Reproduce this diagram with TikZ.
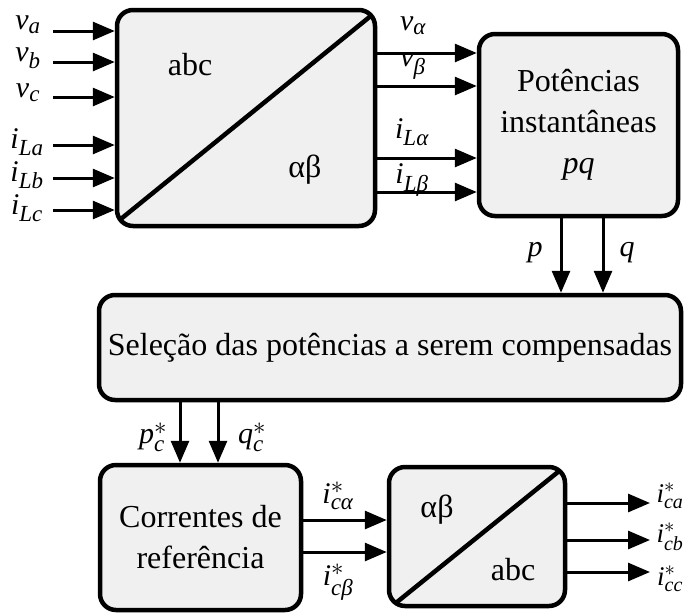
\documentclass[tikz,border=0pt]{standalone}
\usepackage{amsmath}
\usepackage{fontspec}
\setmainfont{Liberation Serif}
\usetikzlibrary{arrows.meta}
\DeclareMathSizes{30}{30}{23}{17}
\DeclareMathSizes{27}{27}{20}{15}
\begin{document}
\begin{tikzpicture}[x=1pt,y=-1pt,
  every node/.style={font=\fontsize{32}{41}\selectfont, inner sep=0pt},
  lbl/.style={font=\fontsize{30}{34}\selectfont},
  olbl/.style={font=\fontsize{27}{30}\selectfont},
  blk/.style={draw, line width=4.5pt, fill=black!6, rounded corners=16pt, align=center},
  arr/.style={line width=3pt, -{Triangle[length=22pt,width=18pt]}},
  diag/.style={line width=4.5pt}]
\useasboundingbox (0,0) rectangle (685,614);

% blocks
\node[blk, minimum width=258pt, minimum height=216pt] (b1) at (246,118) {};
\node[blk, minimum width=199pt, minimum height=182pt] (b2) at (578.5,125) {Potências\\instantâneas\\\textit{pq}};
\node[blk, minimum width=582pt, minimum height=105pt] (b3) at (390,347.5) {Seleção das potências a serem compensadas};
\node[blk, minimum width=201pt, minimum height=145pt] (b4) at (200.5,537.5) {Correntes de\\referência};
\node[blk, minimum width=176pt, minimum height=139pt] (b5) at (477,536.5) {};

% diagonals and texts
\draw[diag] ([shift={(7pt,10pt)}]b1.south west) -- ([shift={(-5pt,-7pt)}]b1.north east);
\node (abc1) at (190,65) {abc};
\node (ab1) at (305,170) {αβ};
\draw[diag] ([shift={(10pt,6pt)}]b5.south west) -- ([shift={(-9pt,-7pt)}]b5.north east);
\node (ab2) at (437,510) {αβ};
\node (abc2) at (513,570) {abc};

% inputs to b1
\coordinate (cva) at (53,31);
\coordinate (cvb) at (53,62);
\coordinate (cvc) at (53,97);
\coordinate (cia) at (53,145);
\coordinate (cib) at (53,178);
\coordinate (cic) at (53,210);
\foreach \c in {cva,cvb,cvc,cia,cib,cic}{\draw[arr] (\c) -- (\c -| b1.west);}
\node[lbl] (lva) at (28,25) {$\textit{v}_{\textit{a}}$};
\node[lbl] (lvb) at (28,58) {$\textit{v}_{\textit{b}}$};
\node[lbl] (lvc) at (28,93) {$\textit{v}_{\textit{c}}$};
\node[lbl] (lia) at (27,142) {$\textit{i}_{\textit{La}}$};
\node[lbl] (lib) at (27,175) {$\textit{i}_{\textit{Lb}}$};
\node[lbl] (lic) at (27,208) {$\textit{i}_{\textit{Lc}}$};

% b1 -> b2
\coordinate (c1) at (377,53);
\coordinate (c2) at (377,86);
\coordinate (c3) at (377,158);
\coordinate (c4) at (377,192);
\foreach \c in {c1,c2,c3,c4}{\draw[arr] (\c -| b1.east) -- (\c -| b2.west);}
\node[lbl] (lval) at (413,26) {$\textit{v}_{\textit{α}}$};
\node[lbl] (lvbe) at (413,66) {$\textit{v}_{\textit{β}}$};
\node[lbl] (lial) at (412,132) {$\textit{i}_{\textit{Lα}}$};
\node[lbl] (libe) at (412,180) {$\textit{i}_{\textit{Lβ}}$};

% b2 -> b3
\draw[arr] ([xshift=-17.5pt]b2.south) -- ([xshift=-17.5pt]b2.south |- b3.north);
\draw[arr] ([xshift=24.5pt]b2.south) -- ([xshift=24.5pt]b2.south |- b3.north);
\node[lbl] (lp) at (535,253) {\textit{p}};
\node[lbl] (lq) at (627,253) {\textit{q}};

% b3 -> b4
\coordinate (cp) at (180,400);
\coordinate (cq) at (218,400);
\draw[arr] (cp |- b3.south) -- (cp |- b4.north);
\draw[arr] (cq |- b3.south) -- (cq |- b4.north);
\node[lbl] (lpc) at (153,437) {$\textit{p}^{*}_{\textit{c}}$};
\node[lbl] (lqc) at (252,437) {$\textit{q}^{*}_{\textit{c}}$};

% b4 -> b5
\coordinate (ca) at (303,520);
\coordinate (cb) at (303,552);
\draw[arr] (ca -| b4.east) -- (ca -| b5.west);
\draw[arr] (cb -| b4.east) -- (cb -| b5.west);
\node[lbl] (lica) at (338,496) {$\textit{i}^{*}_{\textit{cα}}$};
\node[lbl] (licb) at (338,582) {$\textit{i}^{*}_{\textit{cβ}}$};

% outputs
\coordinate (oa) at (650,503);
\coordinate (ob) at (650,540);
\coordinate (oc) at (650,572);
\foreach \c in {oa,ob,oc}{\draw[arr] (\c -| b5.east) -- (\c);}
\node[olbl] (loa) at (670,496) {$\textit{i}^{*}_{\textit{ca}}$};
\node[olbl] (lob) at (670,537) {$\textit{i}^{*}_{\textit{cb}}$};
\node[olbl] (loc) at (670,579) {$\textit{i}^{*}_{\textit{cc}}$};
\end{tikzpicture}
\end{document}
